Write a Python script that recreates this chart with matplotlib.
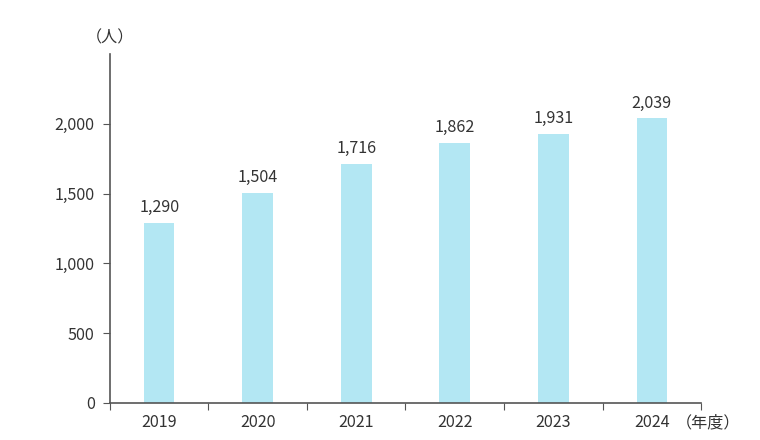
import matplotlib.pyplot as plt
import numpy as np

plt.rcParams['font.family'] = ['Noto Sans CJK JP', 'DejaVu Sans']

years = ['2019', '2020', '2021', '2022', '2023', '2024']
values = [1290, 1504, 1716, 1862, 1931, 2039]
yticks = [0, 500, 1000, 1500, 2000]

txt = '#333333'
fs = 11.6
fig = plt.figure(figsize=(7.6, 4.4), dpi=100)
ax = fig.add_axes([0.1447, 0.0841, 0.7777, 0.7929])

x = np.arange(len(years))
ax.bar(x, values, width=0.31, color='#b3e7f3')
for xi, v in zip(x, values):
    ax.text(xi, v + 50, f'{v:,}', ha='center', va='bottom', fontsize=fs, color=txt)

ax.set_xlim(-0.5, len(years) - 0.5)
ax.set_ylim(0, 2500)
ax.set_yticks(yticks)
ax.set_yticklabels([f'{t:,}' for t in yticks], fontsize=fs, color=txt)

# ticks between categories, labels centred under bars
ax.set_xticks(np.arange(len(years) + 1) - 0.5)
ax.set_xticklabels([])
ax.set_xticks(x, minor=True)
ax.set_xticklabels(years, minor=True, fontsize=fs, color=txt)
ax.tick_params(axis='x', which='minor', length=0, pad=8)
ax.tick_params(axis='x', which='major', length=5, color='#555555', direction='out')
ax.tick_params(axis='y', length=5, color='#555555', pad=6)

for s in ['top', 'right']:
    ax.spines[s].set_visible(False)
for s in ['left', 'bottom']:
    ax.spines[s].set_color('#555555')
    ax.spines[s].set_linewidth(1.2)

ax.text(0, 1.045, '（人）', transform=ax.transAxes, ha='center', va='center',
        fontsize=fs, color=txt)
ax.text(5.24, -0.032, '（年度）', transform=ax.get_xaxis_transform(), ha='left', va='top',
        fontsize=fs, color=txt)

fig.savefig('out.png', dpi=100)
